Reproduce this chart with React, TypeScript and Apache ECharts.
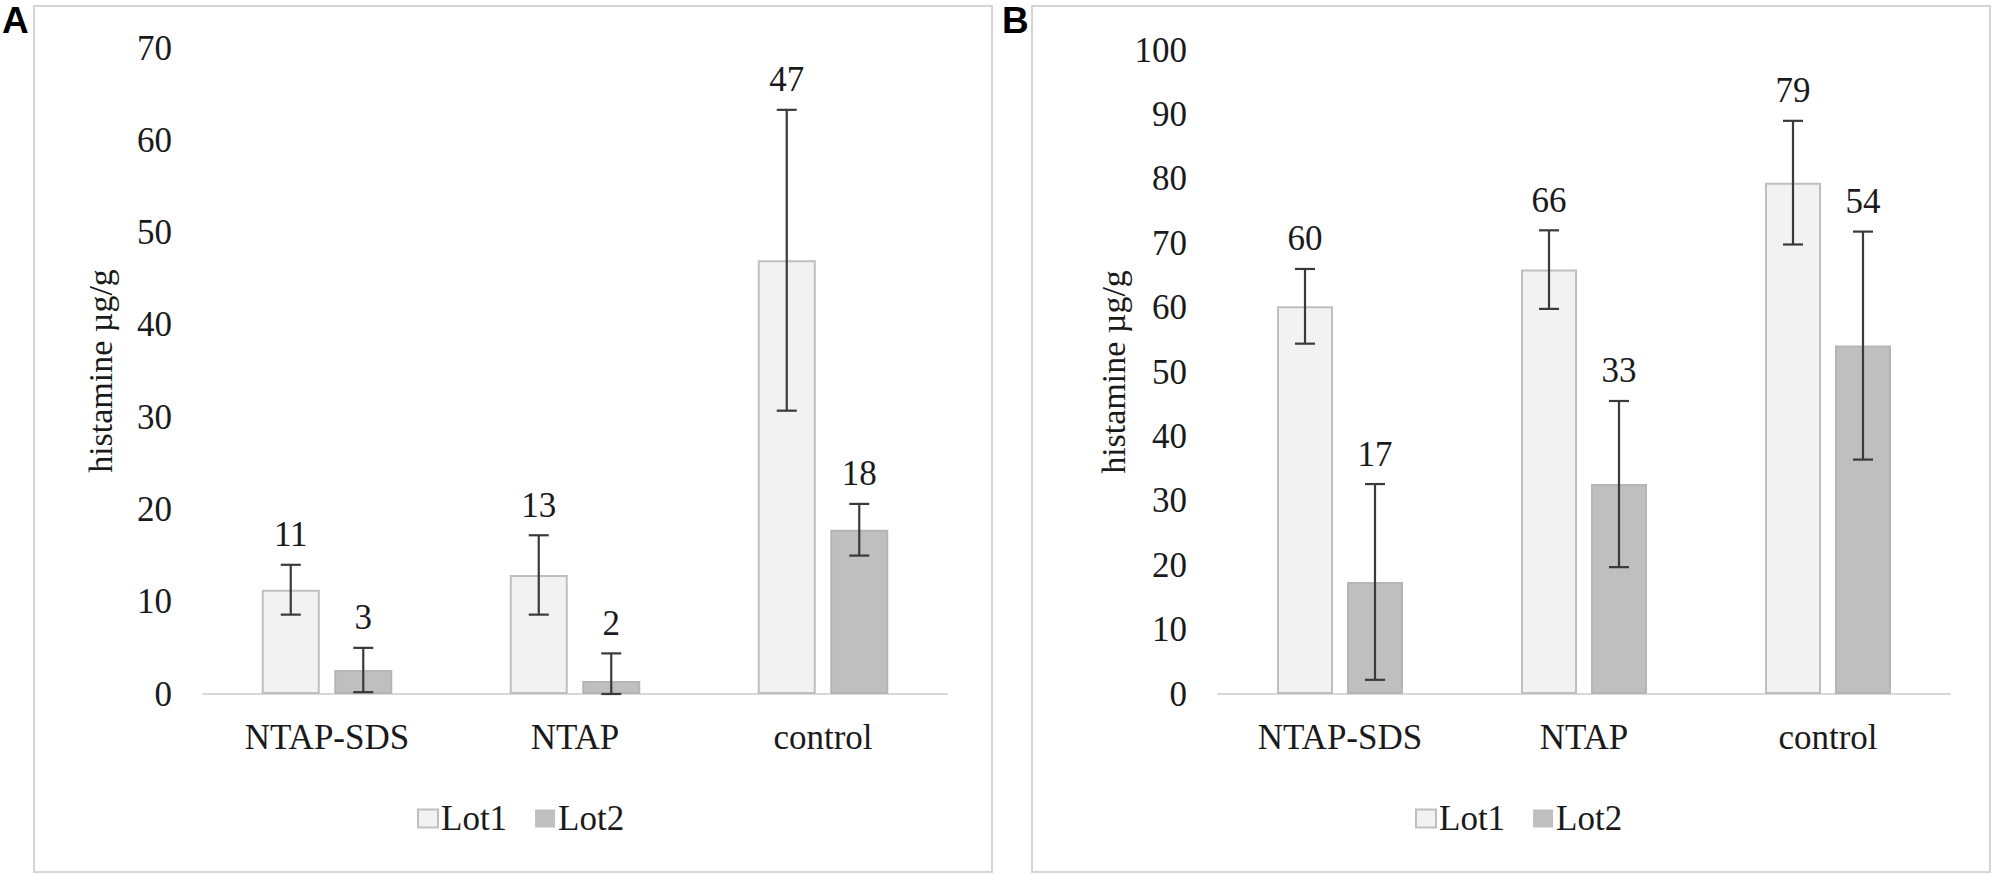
import React, { useEffect, useRef } from "react";
import * as echarts from "echarts";

const categories = ["NTAP-SDS", "NTAP", "control"];

// Panel A
const lot1A = [11.3, 12.9, 47.0];
const lot1ErrA = [2.7, 4.3, 16.3];
const lot1LabelA = ["11", "13", "47"];
const lot2A = [2.6, 1.4, 17.8];
const lot2ErrA = [2.4, 3.0, 2.8];
const lot2LabelA = ["3", "2", "18"];

// Panel B
const lot1B = [60.2, 65.9, 79.4];
const lot1ErrB = [5.8, 6.1, 9.6];
const lot1LabelB = ["60", "66", "79"];
const lot2B = [17.4, 32.6, 54.1];
const lot2ErrB = [15.2, 12.9, 17.7];
const lot2LabelB = ["17", "33", "54"];

const yMaxA = 70;
const yMaxB = 100;
const yStep = 10;
const yTitle = "histamine µg/g";
const seriesNames = ["Lot1", "Lot2"];

const FONT = "Liberation Serif";
const TXT = "#1a1a1a";
const LOT1_FILL = "#f2f2f2";
const LOT1_BORDER = "#bfbfbf";
const LOT2_FILL = "#bfbfbf";
const LOT2_BORDER = "#b5b5b5";

function errorSeries(
  grid: number,
  vals: number[],
  errs: number[],
  labels: string[],
  offset: number
) {
  return {
    type: "custom",
    xAxisIndex: grid,
    yAxisIndex: grid,
    silent: true,
    z: 5,
    data: vals.map((v, i) => [i, v, errs[i]]),
    encode: { x: 0, y: 1 },
    renderItem: (params: any, api: any) => {
      const ci = api.value(0);
      const v = api.value(1);
      const e = api.value(2);
      const hi = api.coord([ci, v + e]);
      const lo = api.coord([ci, Math.max(v - e, 0)]);
      const x = hi[0] + offset;
      const cap = 10;
      const ls = { stroke: "#3a3a3a", lineWidth: 2.2 };
      return {
        type: "group",
        children: [
          { type: "line", shape: { x1: x, y1: hi[1], x2: x, y2: lo[1] }, style: ls },
          { type: "line", shape: { x1: x - cap, y1: hi[1], x2: x + cap, y2: hi[1] }, style: ls },
          { type: "line", shape: { x1: x - cap, y1: lo[1], x2: x + cap, y2: lo[1] }, style: ls },
          {
            type: "text",
            style: {
              text: labels[params.dataIndex],
              x: x,
              y: hi[1] - 30,
              align: "center",
              verticalAlign: "middle",
              fontFamily: FONT,
              fontSize: 35,
              fill: TXT,
            },
          },
        ],
      };
    },
  };
}

export default function App() {
  const ref = useRef<HTMLDivElement>(null);

  useEffect(() => {
    document.body.style.margin = "0";
    const chart = echarts.init(ref.current!, null, { renderer: "svg" });

    const barW = [58, 56];
    const gapPct = 0.25;
    const off = barW.map((w) => (w * (1 + gapPct)) / 2);

    const xAxisCfg = (gi: number) => ({
      type: "category",
      gridIndex: gi,
      data: categories,
      axisLine: { lineStyle: { color: "#d9d9d9", width: 2 } },
      axisTick: { show: false },
      axisLabel: { fontFamily: FONT, fontSize: 35, color: TXT, margin: 26 },
    });
    const yAxisCfg = (gi: number, max: number) => ({
      type: "value",
      gridIndex: gi,
      min: 0,
      max: max,
      interval: yStep,
      axisLine: { show: false },
      axisTick: { show: false },
      splitLine: { show: false },
      axisLabel: { fontFamily: FONT, fontSize: 35, color: TXT, margin: 31 },
      name: yTitle,
      nameLocation: "middle",
      nameRotate: 90,
      nameGap: 86,
      nameTextStyle: { fontFamily: FONT, fontSize: 34, color: TXT },
    });

    const barSeries = (gi: number, name: string, data: number[], fill: string, border: string) => ({
      type: "bar",
      name,
      xAxisIndex: gi,
      yAxisIndex: gi,
      data,
      barWidth: barW[gi],
      barGap: "25%",
      itemStyle: { color: fill, borderColor: border, borderWidth: 2 },
    });

    const legendCfg = (left: number) => ({
      left,
      top: 796,
      itemWidth: 20,
      itemHeight: 18,
      itemGap: 28,
      selectedMode: false,
      icon: "rect",
      textStyle: { fontFamily: FONT, fontSize: 35, color: TXT, padding: [0, 0, 0, -2] },
      data: [
        { name: seriesNames[0], itemStyle: { color: LOT1_FILL, borderColor: LOT1_BORDER, borderWidth: 2 } },
        { name: seriesNames[1], itemStyle: { color: LOT2_FILL, borderColor: LOT2_FILL, borderWidth: 0 } },
      ],
    });

    chart.setOption({
      animation: false,
      backgroundColor: "#ffffff",
      graphic: [
        { type: "rect", shape: { x: 34, y: 6, width: 958, height: 866 }, style: { fill: "none", stroke: "#d4d4d4", lineWidth: 2 } },
        { type: "rect", shape: { x: 1032, y: 6, width: 958, height: 866 }, style: { fill: "none", stroke: "#d4d4d4", lineWidth: 2 } },
        { type: "text", x: 2, y: 2, style: { text: "A", fontFamily: "Liberation Sans", fontWeight: "bold", fontSize: 37, fill: "#000" } },
        { type: "text", x: 1002, y: 2, style: { text: "B", fontFamily: "Liberation Sans", fontWeight: "bold", fontSize: 37, fill: "#000" } },
      ],
      grid: [
        { left: 203, right: 1996 - 947, top: 48, bottom: 880 - 694 },
        { left: 1218, right: 1996 - 1950, top: 50, bottom: 880 - 694 },
      ],
      xAxis: [xAxisCfg(0), xAxisCfg(1)],
      yAxis: [yAxisCfg(0, yMaxA), yAxisCfg(1, yMaxB)],
      legend: [legendCfg(412), legendCfg(1410)],
      series: [
        barSeries(0, seriesNames[0], lot1A, LOT1_FILL, LOT1_BORDER),
        barSeries(0, seriesNames[1], lot2A, LOT2_FILL, LOT2_BORDER),
        barSeries(1, seriesNames[0], lot1B, LOT1_FILL, LOT1_BORDER),
        barSeries(1, seriesNames[1], lot2B, LOT2_FILL, LOT2_BORDER),
        errorSeries(0, lot1A, lot1ErrA, lot1LabelA, -off[0]),
        errorSeries(0, lot2A, lot2ErrA, lot2LabelA, off[0]),
        errorSeries(1, lot1B, lot1ErrB, lot1LabelB, -off[1]),
        errorSeries(1, lot2B, lot2ErrB, lot2LabelB, off[1]),
      ],
    });

    return () => chart.dispose();
  }, []);

  return <div ref={ref} style={{ width: 1996, height: 880 }} />;
}
